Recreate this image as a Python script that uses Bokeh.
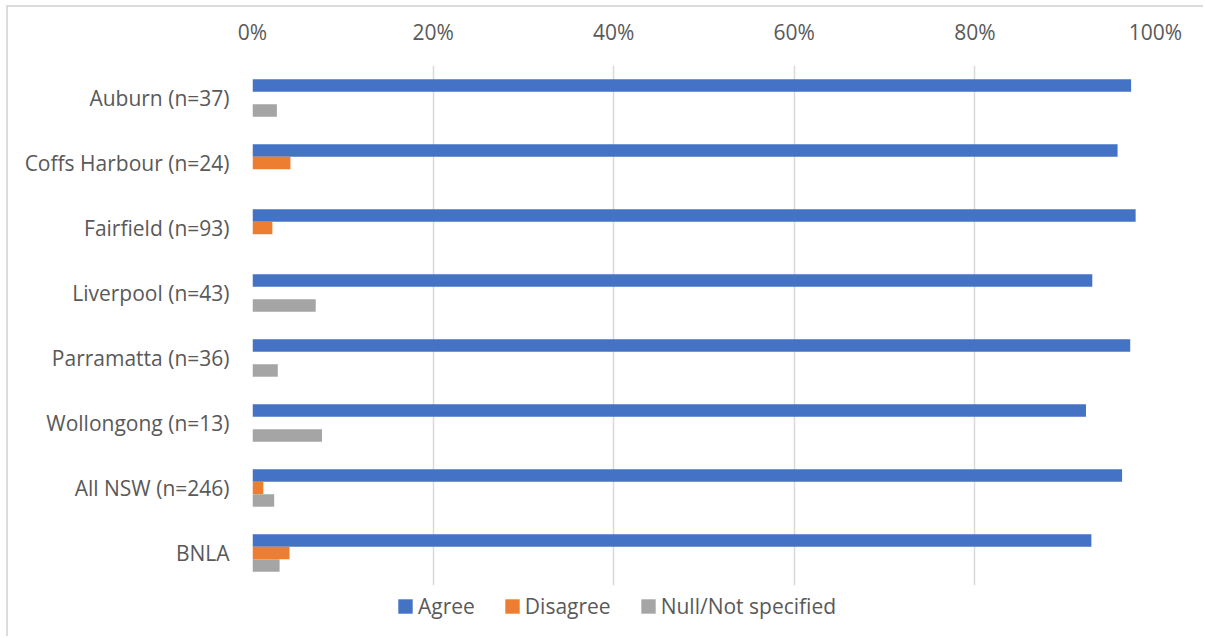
from bokeh.plotting import figure
from bokeh.layouts import column
from bokeh.models import ColumnDataSource, FactorRange, Legend, LegendItem, NumeralTickFormatter, FixedTicker, Range1d
from bokeh.transform import dodge
from bokeh.embed import file_html
from bokeh.resources import INLINE

categories = ["Auburn (n=37)", "Coffs Harbour (n=24)", "Fairfield (n=93)", "Liverpool (n=43)",
              "Parramatta (n=36)", "Wollongong (n=13)", "All NSW (n=246)", "BNLA"]
agree = [0.973, 0.958, 0.978, 0.930, 0.972, 0.923, 0.963, 0.929]
disagree = [0.0, 0.042, 0.022, 0.0, 0.0, 0.0, 0.012, 0.041]
null_ns = [0.027, 0.0, 0.0, 0.070, 0.028, 0.077, 0.024, 0.030]
series_names = ["Agree", "Disagree", "Null/Not specified"]
x_ticks = [0, 0.2, 0.4, 0.6, 0.8, 1.0]

colors = ["#4472C4", "#ED7D31", "#A5A5A5"]
FONT = "Open Sans"
FS = "21px"
TXT = "#595959"

src = ColumnDataSource(dict(cat=categories, agree=agree, disagree=disagree, null=null_ns))

W = 1195
p = figure(width=W, height=580, output_backend="svg", toolbar_location=None,
           y_range=FactorRange(factors=list(reversed(categories))),
           x_range=(0, 1), x_axis_location="above",
           min_border_left=244, min_border_right=48, min_border_top=58, min_border_bottom=2)
p.outline_line_color = None

bw = 0.192
r1 = p.hbar(y=dodge("cat", bw, range=p.y_range), left=0, right="agree", height=bw,
            source=src, fill_color=colors[0], line_color=None)
r2 = p.hbar(y=dodge("cat", 0, range=p.y_range), left=0, right="disagree", height=bw,
            source=src, fill_color=colors[1], line_color=None)
r3 = p.hbar(y=dodge("cat", -bw, range=p.y_range), left=0, right="null", height=bw,
            source=src, fill_color=colors[2], line_color=None)

p.xaxis.ticker = FixedTicker(ticks=x_ticks)
p.xaxis.formatter = NumeralTickFormatter(format="0%")
for ax in (p.xaxis[0], p.yaxis[0]):
    ax.axis_line_color = None
    ax.major_tick_line_color = None
    ax.minor_tick_line_color = None
    ax.major_label_text_font = FONT
    ax.major_label_text_font_size = FS
    ax.major_label_text_color = TXT
p.xaxis.major_label_standoff = 14
p.yaxis.major_label_standoff = 17

p.xgrid.grid_line_color = "#d9d9d9"
p.xgrid.grid_line_width = 1.5
p.ygrid.grid_line_color = None

# legend strip below the chart (frames are aligned by the column layout)
p2 = figure(width=W, height=49, output_backend="svg", toolbar_location=None,
            x_axis_type=None, y_axis_type=None, x_range=Range1d(0, 1), y_range=Range1d(0, 1),
            min_border_left=0, min_border_right=0, min_border_top=0, min_border_bottom=0)
p2.outline_line_color = None
p2.grid.grid_line_color = None
nan = float("nan")
g = [p2.hbar(y=[nan], right=[nan], height=0.1, fill_color=c, line_color=None) for c in colors]

legend = Legend(items=[LegendItem(label=n, renderers=[r]) for n, r in zip(series_names, g)],
                orientation="horizontal", location=(144, 16),
                padding=0, margin=0, spacing=28, label_standoff=4,
                glyph_width=18, glyph_height=18, label_height=14,
                border_line_color=None, background_fill_alpha=0,
                label_text_font=FONT, label_text_font_size=FS, label_text_color=TXT)
p2.add_layout(legend, "center")

layout = column(p, p2, spacing=0,
                styles={"margin": "5px 0 0 6px", "border-left": "2px solid #dcdcdc",
                        "border-top": "2px solid #dcdcdc"})

open("out.html", "w").write(file_html(layout, INLINE))
